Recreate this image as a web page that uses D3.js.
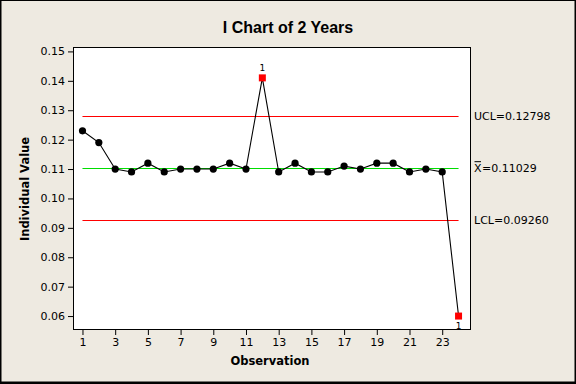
<!DOCTYPE html>
<html>
<head>
<meta charset="utf-8">
<script src="https://cdn.jsdelivr.net/npm/d3@7"></script>
<style>
  html, body { margin: 0; padding: 0; background: #EEEAE1; }
  svg { display: block; }
</style>
</head>
<body>
<script>
// ---- data ----
const observations = [1,2,3,4,5,6,7,8,9,10,11,12,13,14,15,16,17,18,19,20,21,22,23,24];
const values = [0.123,0.119,0.110,0.109,0.112,0.109,0.110,0.110,0.110,0.112,0.110,0.141,
                0.109,0.112,0.109,0.109,0.111,0.110,0.112,0.112,0.109,0.110,0.109,0.060];
const limitNames = ["UCL", "X", "LCL"];
const limitValues = [0.12798, 0.11029, 0.09260];
const limitLabels = ["UCL=0.12798", "=0.11029", "LCL=0.09260"];
const yTicks = [0.06,0.07,0.08,0.09,0.10,0.11,0.12,0.13,0.14,0.15];
const xTicks = [1,3,5,7,9,11,13,15,17,19,21,23];
const title = "I Chart of 2 Years";
const xTitle = "Observation";
const yTitle = "Individual Value";

// ---- layout ----
const W = 576, H = 384;
const plot = {left: 73, right: 470, top: 47, bottom: 329};
const font = "'DejaVu Sans', Verdana, sans-serif";

const svg = d3.select("body").append("svg").attr("width", W).attr("height", H);
svg.append("rect").attr("x", 0).attr("y", 0).attr("width", W).attr("height", H).attr("fill", "#EEEAE1");
// frame
svg.append("rect").attr("x", 0).attr("y", 0).attr("width", W).attr("height", 1).attr("fill", "#000");
svg.append("rect").attr("x", 0).attr("y", 0).attr("width", 1.5).attr("height", H).attr("fill", "#000");
svg.append("rect").attr("x", W - 1.5).attr("y", 0).attr("width", 1.5).attr("height", H).attr("fill", "#000");
svg.append("rect").attr("x", 0).attr("y", H - 2.5).attr("width", W).attr("height", 2.5).attr("fill", "#000");

const x = d3.scaleLinear().domain([0.42, 24.7]).range([plot.left, plot.right]);
const y = d3.scaleLinear().domain([0.0556, 0.1515]).range([plot.bottom, plot.top]);

// plot area
svg.append("rect").attr("x", plot.left + 0.5).attr("y", plot.top + 0.5)
  .attr("width", plot.right - plot.left).attr("height", plot.bottom - plot.top)
  .attr("fill", "#fff").attr("stroke", "#000").attr("stroke-width", 1);

// axes
const yAxis = d3.axisLeft(y).tickValues(yTicks).tickFormat(d3.format(".2f")).tickSize(5).tickPadding(3);
const gy = svg.append("g").attr("transform", `translate(${plot.left},0)`).call(yAxis);
const xAxis = d3.axisBottom(x).tickValues(xTicks).tickFormat(d3.format("d")).tickSize(5).tickPadding(3);
const gx = svg.append("g").attr("transform", `translate(0,${plot.bottom + 1})`).call(xAxis);
[gx, gy].forEach(g => {
  g.select(".domain").remove();
  g.selectAll("text").attr("font-family", font).attr("font-size", 11).attr("fill", "#000");
  g.selectAll("line").attr("stroke", "#000");
});

// control lines
const limitColors = ["#FF0000", "#00DD00", "#FF0000"];
svg.selectAll(".lim").data(limitValues).join("line")
  .attr("x1", x(observations[0])).attr("x2", x(observations[observations.length - 1]))
  .attr("y1", d => Math.round(y(d)) + 0.5).attr("y2", d => Math.round(y(d)) + 0.5)
  .attr("stroke", (d, i) => limitColors[i]).attr("stroke-width", 1);

// data line
const line = d3.line().x((d, i) => x(observations[i])).y(d => y(d));
svg.append("path").datum(values).attr("d", line)
  .attr("fill", "none").attr("stroke", "#000").attr("stroke-width", 1.1);

const ucl = limitValues[0], lcl = limitValues[2];
const isOut = v => v > ucl || v < lcl;

// points
values.forEach((v, i) => {
  if (isOut(v)) {
    svg.append("rect").attr("x", x(observations[i]) - 3.5).attr("y", y(v) - 3.5)
      .attr("width", 7).attr("height", 7).attr("fill", "#FF0000");
    svg.append("text").attr("x", x(observations[i])).attr("y", v > ucl ? y(v) - 7 : y(v) + 13)
      .attr("text-anchor", "middle").attr("font-family", font).attr("font-size", 9)
      .attr("fill", "#000").text("1");
  } else {
    svg.append("circle").attr("cx", x(observations[i])).attr("cy", y(v)).attr("r", 3.6)
      .attr("fill", "#000");
  }
});

// limit labels
limitValues.forEach((v, i) => {
  const t = svg.append("text").attr("x", limitNames[i] === "X" ? 482 : 474).attr("y", y(v))
    .attr("dy", "0.35em").attr("font-family", font).attr("font-size", 11).attr("fill", "#000");
  if (limitNames[i] === "X") {
    svg.append("text").attr("x", 474).attr("y", y(v)).attr("dy", "0.35em")
      .attr("font-family", font).attr("font-size", 11).attr("fill", "#000").text("X");
    svg.append("line").attr("x1", 474.5).attr("x2", 481).attr("y1", y(v) - 6.5).attr("y2", y(v) - 6.5)
      .attr("stroke", "#000").attr("stroke-width", 1);
  }
  t.text(limitLabels[i]);
});

// titles
svg.append("text").attr("x", 288).attr("y", 33).attr("text-anchor", "middle")
  .attr("font-family", "'Liberation Sans', Arial, sans-serif").attr("font-weight", "bold")
  .attr("font-size", 16).attr("fill", "#000").text(title);
svg.append("text").attr("x", 270).attr("y", 365).attr("text-anchor", "middle")
  .attr("font-family", font).attr("font-weight", "bold").attr("font-size", 11.5)
  .attr("fill", "#000").text(xTitle);
svg.append("text").attr("transform", "translate(29,189) rotate(-90)").attr("text-anchor", "middle")
  .attr("font-family", font).attr("font-weight", "bold").attr("font-size", 11.5)
  .attr("fill", "#000").text(yTitle);
</script>
</body>
</html>
